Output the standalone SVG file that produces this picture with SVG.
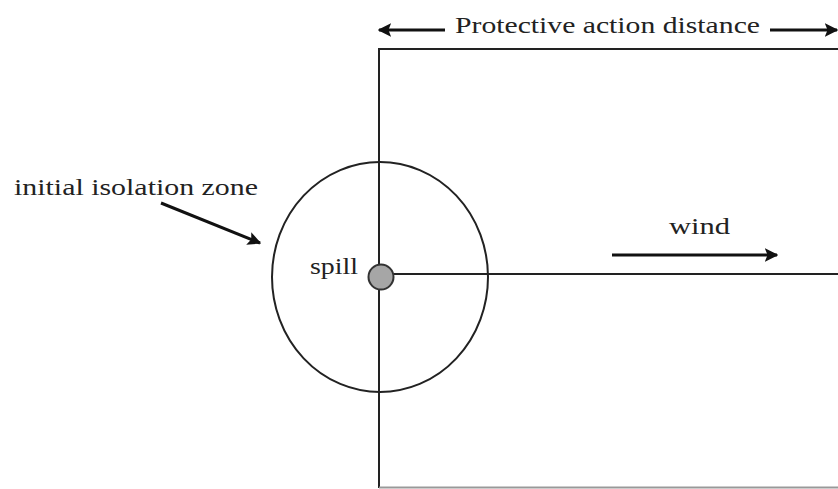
<svg xmlns="http://www.w3.org/2000/svg" width="838" height="489" viewBox="0 0 838 489">
<style>
text{font-family:"Liberation Serif","DejaVu Serif","Times New Roman",serif;font-size:23px;fill:#222}
.ln{stroke:#222;stroke-width:2;fill:none}
.ar{stroke:#111;stroke-width:3;fill:none;marker-end:url(#ah)}
</style>
<defs>
<marker id="ah" viewBox="0 0 10 10" refX="9" refY="5" markerWidth="4.5" markerHeight="4.5" orient="auto" markerUnits="strokeWidth">
<path d="M0,0 L10,5 L0,10 L2,5 z" fill="#111"/>
</marker>
</defs>
<rect width="838" height="489" fill="#fff"/>
<g id="zone-rect">
<line class="ln" x1="379" y1="49" x2="838" y2="49"/>
<line class="ln" x1="379" y1="48" x2="379" y2="488"/>
<line x1="379" y1="487.5" x2="838" y2="487.5" stroke="#999" stroke-width="2"/>
<line class="ln" x1="380" y1="274" x2="838" y2="274"/>
</g>
<g id="isolation-circle">
<ellipse class="ln" cx="380" cy="277" rx="108" ry="115" stroke-width="1.5"/>
</g>
<g id="spill">
<circle cx="381" cy="277" r="12.5" fill="#a6a6a6" stroke="#333" stroke-width="2"/>
<text x="310" y="274" textLength="48" lengthAdjust="spacingAndGlyphs">spill</text>
</g>
<g id="label-pad">
<text x="455" y="33" textLength="305" lengthAdjust="spacingAndGlyphs">Protective action distance</text>
</g>
<g id="label-iz">
<text x="14" y="195" textLength="244" lengthAdjust="spacingAndGlyphs">initial isolation zone</text>
</g>
<g id="label-wind">
<text x="669" y="234" textLength="61" lengthAdjust="spacingAndGlyphs">wind</text>
</g>
<g id="connectors">
<line class="ar" x1="445" y1="30" x2="379" y2="30"/>
<line class="ar" x1="770" y1="30" x2="837" y2="30"/>
<line class="ar" x1="612" y1="255" x2="777" y2="255"/>
<line class="ar" x1="161" y1="203" x2="260" y2="243" stroke-width="4"/>
</g>
</svg>
